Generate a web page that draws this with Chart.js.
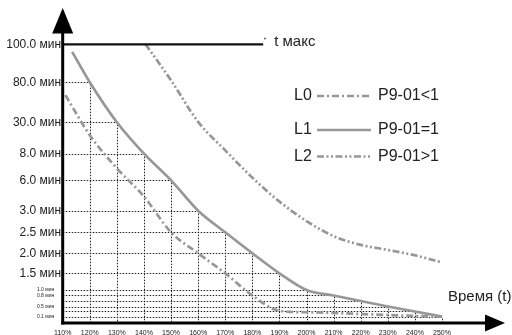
<!DOCTYPE html>
<html><head><meta charset="utf-8">
<script src="https://cdn.jsdelivr.net/npm/chart.js@4.4.0/dist/chart.umd.min.js"></script>
<style>html,body{margin:0;padding:0;background:#fff;}#wrap{width:512px;height:335px;}</style>
</head><body><div id="wrap"><canvas id="c" width="512" height="335"></canvas></div>
<script>
// ---------- data ----------
const xTickValues = [110,120,130,140,150,160,170,180,190,200,210,220,230,240,250];
const xTickLabels = ['110%','120%','130%','140%','150%','160%','170%','180%','190%','200%','210%','220%','230%','240%','250%'];
const yTickValues = [0.1,0.3,0.5,0.65,0.8,1.0,1.5,2.0,2.5,3,6,8,30,80,100];
const yTickLabels = ['0.1 мин','','0.5 мин','','0.8 мин','1.0 мин','1.5 мин','2.0 мин','2.5 мин','3.0 мин','6.0 мин','8.0 мин','30.0 мин','80.0 мин','100.0 мин'];

const l0Pct = [111,120,130,140,150,160,170,180,190,200,210,220,230,240,250];
const l0Min = [64,21,6.9,4.4,2.5,2.0,1.5,0.8,0.33,0.27,0.24,0.2,0.16,0.12,0.1];
const l1Pct = [113.5,120,130,140,150,160,170,180,190,200,210,220,230,240,250];
const l1Min = [96,80,30,8,6,3,2.5,2.0,1.5,1.0,0.8,0.65,0.5,0.3,0.1];
const l2Pct = [140.6,150,160,170,180,190,200,210,220,230,240,250];
const l2Min = [100,81,30.5,10.3,6.2,3.9,2.76,2.41,2.2,2.08,1.95,1.77];

const seriesNames = ['L0','L1','L2'];
const seriesConditions = ['P9-01<1','P9-01=1','P9-01>1'];
const tMaxLabel = 't макс';
const tMaxValue = 100;
const tMaxEndPct = 184;
const xAxisTitle = 'Время (t)';

// ---------- axis layout (share of plot height for each y tick; the axis is not proportional) ----------
const yTickPlacement = [0.0233,0.0413,0.0592,0.0789,0.0987,0.1184,0.1783,0.2501,0.3254,0.4029,0.5120,0.6075,0.7201,0.8636,1.0];

const FONT = "'Liberation Sans', Arial, sans-serif";
const GREY = '#979797';

class MinuteScale extends Chart.LinearScale {
  static id = 'minutes';
  static defaults = Chart.LinearScale.defaults;
  _dec(v) {
    const vs = [0].concat(yTickValues), ds = [0].concat(yTickPlacement);
    if (v <= vs[0]) return ds[0];
    for (let i = 1; i < vs.length; i++) {
      if (v <= vs[i]) { const t = (v - vs[i-1]) / (vs[i] - vs[i-1]); return ds[i-1] + t * (ds[i] - ds[i-1]); }
    }
    return ds[ds.length - 1];
  }
  getPixelForValue(v) { return (v === null || v === undefined) ? NaN : this.getPixelForDecimal(this._dec(v)); }
  getValueForPixel(p) {
    const d = this.getDecimalForPixel(p);
    const vs = [0].concat(yTickValues), ds = [0].concat(yTickPlacement);
    for (let i = 1; i < ds.length; i++) if (d <= ds[i]) return vs[i-1] + (d - ds[i-1]) / (ds[i] - ds[i-1]) * (vs[i] - vs[i-1]);
    return vs[vs.length - 1];
  }
  buildTicks() { this.start = this.min; this.end = this.max; return yTickValues.map(v => ({value: v})); }
}
Chart.register(MinuteScale);

const toPts = (xs, ys) => xs.map((x, i) => ({x, y: ys[i]}));
const dashes = [[7,3,2,3],[],[7,2.5,2,2.5,2,2.5]];

const stairs = {
  id: 'stairs',
  beforeDatasetsDraw(chart) {
    const {ctx, scales: {x, y}} = chart;
    ctx.save();
    ctx.strokeStyle = '#222'; ctx.lineWidth = 1; ctx.setLineDash([1.5,1.5]);
    const x0 = x.getPixelForValue(xTickValues[0]), yb = y.getPixelForValue(0);
    l1Pct.forEach((p, i) => {
      if (p < xTickValues[1]) return;
      const px = Math.round(x.getPixelForValue(p)) + 0.5, py = Math.round(y.getPixelForValue(l1Min[i])) + 0.5;
      ctx.beginPath(); ctx.moveTo(x0, py); ctx.lineTo(px, py); ctx.lineTo(px, yb); ctx.stroke();
    });
    // remaining ticks without stair corners
    ctx.restore();
  }
};

const deco = {
  id: 'deco',
  afterDatasetsDraw(chart) {
    const {ctx, scales: {x, y}} = chart;
    const ax = x.getPixelForValue(xTickValues[0]), ay = y.getPixelForValue(0);
    ctx.save();
    // t max line
    const ty = y.getPixelForValue(tMaxValue);
    ctx.strokeStyle = '#111'; ctx.lineWidth = 2.2; ctx.setLineDash([]);
    ctx.beginPath(); ctx.moveTo(ax, ty); ctx.lineTo(x.getPixelForValue(tMaxEndPct), ty); ctx.stroke();
    ctx.fillStyle = '#333'; ctx.fillRect(x.getPixelForValue(tMaxEndPct) + 1, ty - 6.5, 1.5, 1.5);
    ctx.fillStyle = '#222'; ctx.font = '15px ' + FONT; ctx.textBaseline = 'middle'; ctx.textAlign = 'left';
    ctx.fillText(tMaxLabel, x.getPixelForValue(tMaxEndPct) + 11, ty - 2);
    // axes
    ctx.strokeStyle = '#000'; ctx.fillStyle = '#000'; ctx.lineWidth = 3;
    ctx.beginPath(); ctx.moveTo(ax, ay + 1.5); ctx.lineTo(ax, 30); ctx.stroke();
    ctx.beginPath(); ctx.moveTo(ax, 8); ctx.lineTo(ax - 10.5, 33.5); ctx.lineTo(ax + 10.5, 33.5); ctx.closePath(); ctx.fill();
    ctx.beginPath(); ctx.moveTo(ax - 1.5, ay); ctx.lineTo(488, ay); ctx.stroke();
    ctx.beginPath(); ctx.moveTo(505, ay); ctx.lineTo(485, ay - 8.5); ctx.lineTo(485, ay + 8.5); ctx.closePath(); ctx.fill();
    // axis title
    ctx.fillStyle = '#222'; ctx.font = '15px ' + FONT; ctx.textAlign = 'left'; ctx.textBaseline = 'middle';
    ctx.fillText(xAxisTitle, 448, 297);
    // legend
    const rows = [96, 130, 156.5];
    chart.data.datasets.forEach((ds, i) => {
      const ry = rows[i];
      ctx.font = '16px ' + FONT; ctx.fillStyle = '#222'; ctx.textAlign = 'left';
      ctx.fillText(seriesNames[i], 294, ry);
      ctx.fillText(seriesConditions[i], 378, ry);
      ctx.strokeStyle = ds.borderColor; ctx.lineWidth = ds.borderWidth; ctx.setLineDash(ds.borderDash || []);
      ctx.beginPath(); ctx.moveTo(317, ry); ctx.lineTo(371, ry); ctx.stroke();
    });
    ctx.restore();
  }
};

const mk = (i, xs, ys) => ({
  label: seriesNames[i], data: toPts(xs, ys), borderColor: GREY, borderWidth: 2.7,
  borderDash: dashes[i], pointRadius: 0, fill: false, clip: false, cubicInterpolationMode: 'monotone'
});

new Chart(document.getElementById('c'), {
  type: 'line',
  data: { datasets: [mk(0, l0Pct, l0Min), mk(1, l1Pct, l1Min), mk(2, l2Pct, l2Min)] },
  options: {
    responsive: false, animation: false, devicePixelRatio: 1, events: [],
    layout: { padding: { top: 44.3, right: 70, left: 0, bottom: 0 } },
    plugins: { legend: { display: false }, tooltip: { enabled: false } },
    scales: {
      x: {
        type: 'linear', min: 110, max: 250,
        grid: { display: false, drawTicks: false }, border: { display: false },
        afterBuildTicks: s => { s.ticks = xTickValues.map(v => ({value: v})); },
        afterFit: s => { s.height = 12; },
        ticks: { autoSkip: false, maxRotation: 0, padding: 6, color: '#222', font: { family: FONT, size: 7 },
          callback: (v, i) => xTickLabels[i] }
      },
      y: {
        type: 'minutes', min: 0, max: 100,
        grid: { display: false, drawTicks: false }, border: { display: false },
        afterFit: s => { s.width = 62.7; },
        ticks: { autoSkip: false, padding: 1.5, color: '#222',
          font: ctx => ({ family: FONT, size: (ctx.tick && ctx.tick.value <= 1) ? 5 : 12 }),
          callback: (v, i) => yTickLabels[i] ? yTickLabels[i] + (v <= 1 ? '\u00a0\u00a0\u00a0\u00a0\u00a0' : '') : '' }
      }
    }
  },
  plugins: [stairs, deco]
});
</script></body></html>
